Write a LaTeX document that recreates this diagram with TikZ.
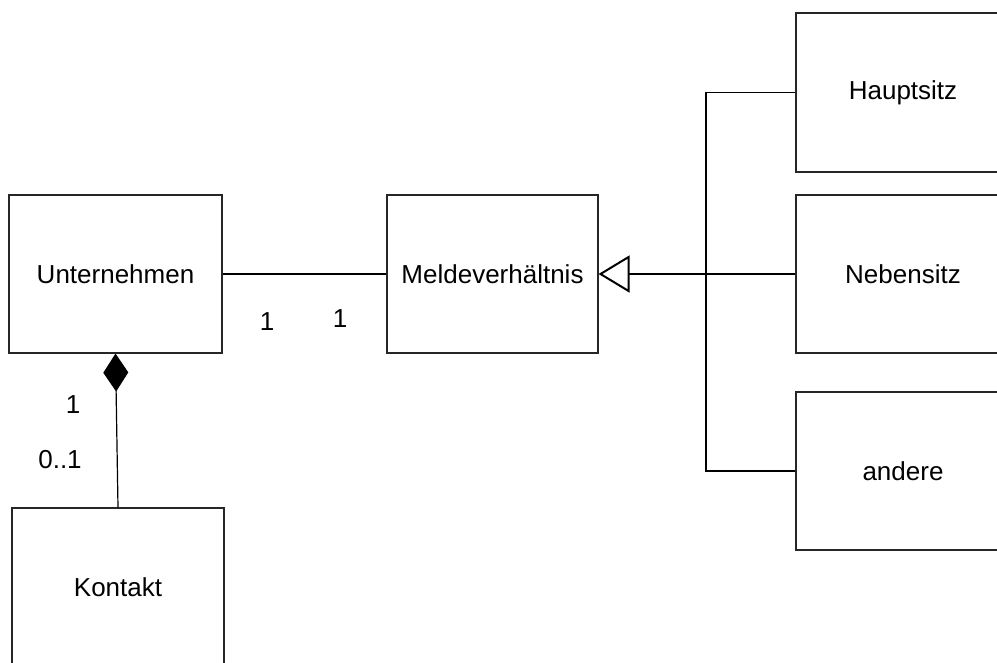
\documentclass[tikz,border=0pt]{standalone}
\usepackage{fontspec}
\setmainfont{Liberation Sans}
\usetikzlibrary{arrows.meta}
\begin{document}
\begin{tikzpicture}[x=1pt,y=-1pt,
  cls/.style={draw=black!85,line width=1.1pt,rectangle,inner sep=0pt,font=\fontsize{26}{31}\selectfont},
  lbl/.style={font=\fontsize{26}{31}\selectfont,inner sep=0pt},
  conn/.style={line width=1.2pt,draw=black}]
\useasboundingbox (0,0) rectangle (997,662);
\clip (0,0) rectangle (997,662);
\node[cls,minimum width=213pt,minimum height=158pt] (U) at (115.5,274) {Unternehmen};
\node[cls,minimum width=211pt,minimum height=158pt] (M) at (492.5,274) {Meldeverhältnis};
\node[cls,minimum width=214pt,minimum height=159pt] (H) at (903,92.5) {Hauptsitz};
\node[cls,minimum width=214pt,minimum height=158pt] (N) at (903,274) {Nebensitz};
\node[cls,minimum width=214pt,minimum height=158pt] (A) at (903,471) {andere};
\node[cls,minimum width=212pt,minimum height=158pt] (K) at (118,587) {Kontakt};
\coordinate (j) at (706,274);
\draw[conn] (U.east) -- (M.west);
\draw[conn,-{Diamond[width=25pt,length=38pt,fill=black]}] (K.north) -- (U.south);
\draw[conn,-{Triangle[open,width=37pt,length=31pt,line width=2pt]}] (N.west) -- (M.east);
\draw[conn] (H.west) -- (H.west -| j) -- (A.west -| j) -- (A.west);
\node[lbl] (l1) at (267,322) {1};
\node[lbl] (l2) at (340,319) {1};
\node[lbl] (l3) at (73,405) {1};
\node[lbl] (l4) at (60,460) {0..1};
\end{tikzpicture}
\end{document}
